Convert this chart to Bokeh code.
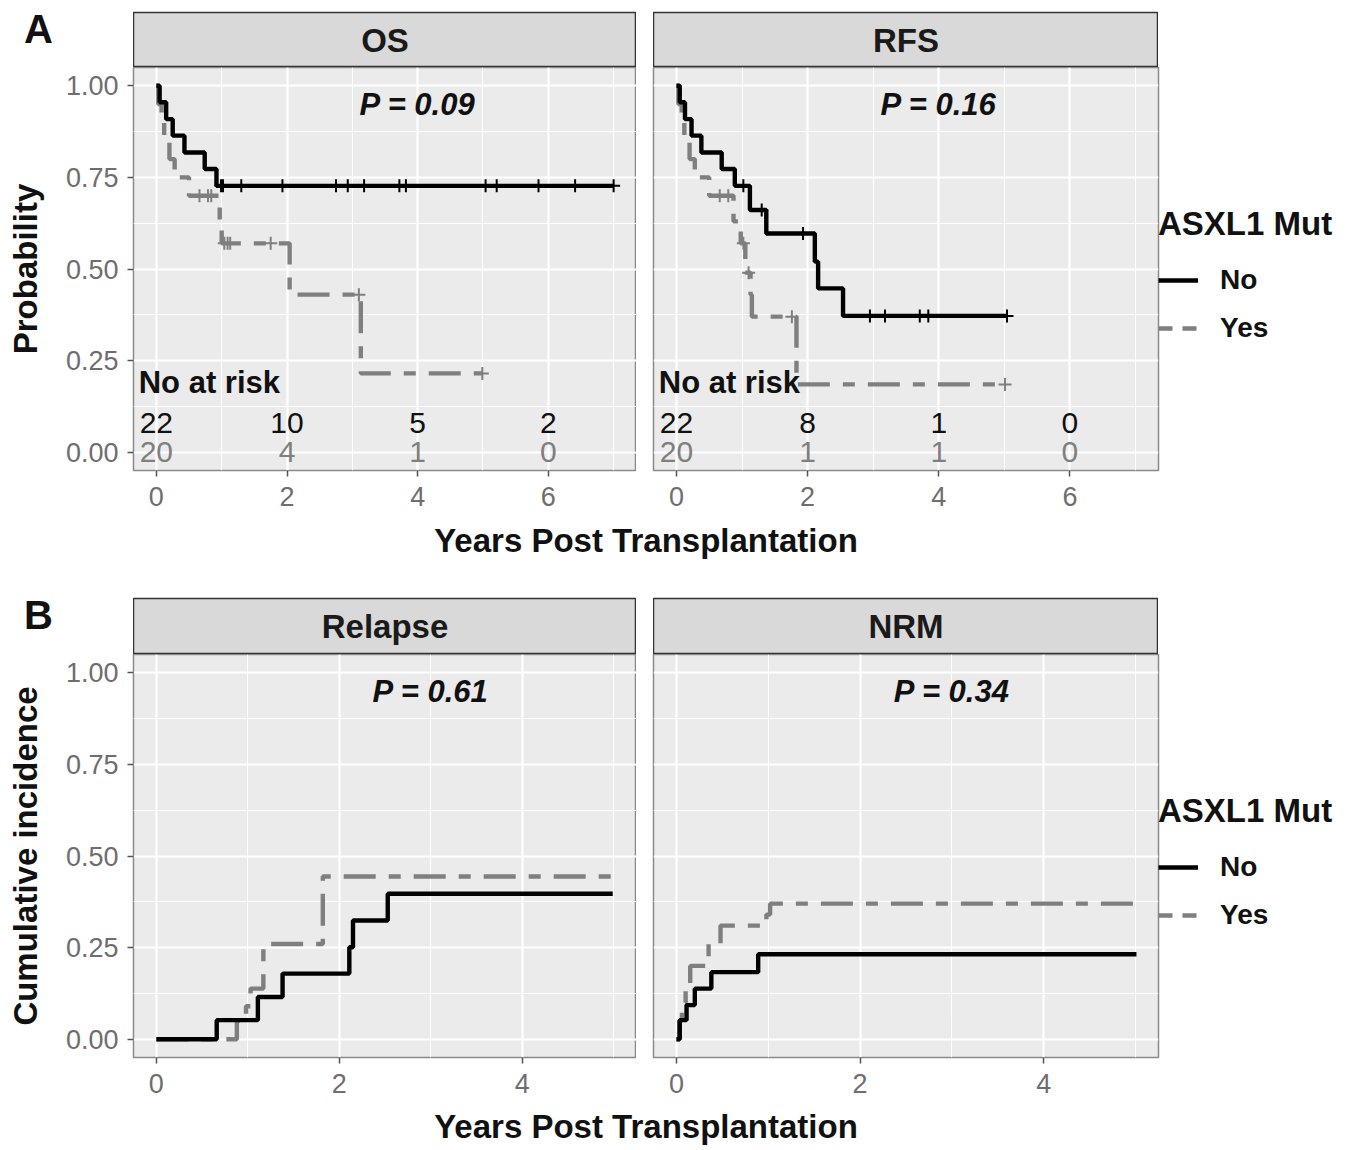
import numpy as np
from bokeh.plotting import figure
from bokeh.models import Range1d, FixedTicker, Grid, Label, Legend, LegendItem, Div
from bokeh.layouts import column, row
from bokeh.embed import file_html
from bokeh.resources import INLINE
from bokeh.core.properties import value

FONT = "Liberation Sans"
C_NO = "#000000"
C_YES = "#7f7f7f"
DASH_YES = "32 13 12 13"
DASH_KEY = "14 10"
TICK_COL = "#6e6e6e"
LW = 4.4

# ---------------- data ----------------
groups = ["No", "Yes"]
legend_title = "ASXL1 Mut"
x_label = "Years Post Transplantation"
y_label_A = "Probability"
y_label_B = "Cumulative incidence"
strip_labels = ["OS", "RFS", "Relapse", "NRM"]
p_values = ["0.09", "0.16", "0.61", "0.34"]
panel_tags = ["A", "B"]

y_ticks = [0, 0.25, 0.5, 0.75, 1]
y_tick_labels = ["0.00", "0.25", "0.50", "0.75", "1.00"]
y_minor = [0.125, 0.375, 0.625, 0.875]
x_ticks_A = [0, 2, 4, 6]
x_minor_A = [1, 3, 5, 7]
x_ticks_B = [0, 2, 4]
x_minor_B = [1, 3, 5]

# OS (Kaplan-Meier)
os_no_t = [0, 0.05, 0.15, 0.25, 0.43, 0.74, 0.92, 7.0]
os_no_s = [1.0, 0.955, 0.909, 0.864, 0.818, 0.773, 0.727, 0.727]
os_no_cens = [0.99, 1.02, 1.30, 1.93, 2.75, 2.93, 3.18, 3.72, 3.82, 5.04, 5.21, 5.85, 6.41, 7.0]
os_yes_t = [0, 0.03, 0.08, 0.12, 0.20, 0.28, 0.50, 0.97, 1.00, 2.04, 3.13, 4.99]
os_yes_s = [1.0, 0.95, 0.90, 0.85, 0.80, 0.75, 0.70, 0.635, 0.57, 0.43, 0.215, 0.215]
os_yes_cens = [0.66, 0.79, 0.84, 1.04, 1.09, 1.13, 1.75, 3.10, 4.99]

# RFS (Kaplan-Meier)
rfs_no_t = [0, 0.05, 0.13, 0.23, 0.38, 0.69, 0.89, 1.12, 1.37, 2.11, 2.16, 2.54, 5.04]
rfs_no_s = [1.0, 0.955, 0.909, 0.864, 0.818, 0.773, 0.727, 0.661, 0.597, 0.52, 0.447, 0.372, 0.372]
rfs_no_cens = [1.02, 1.30, 1.93, 2.95, 3.18, 3.71, 3.84, 5.04]
rfs_yes_t = [0, 0.03, 0.08, 0.12, 0.20, 0.28, 0.50, 0.87, 0.98, 1.05, 1.13, 1.15, 1.83, 5.01]
rfs_yes_s = [1.0, 0.95, 0.90, 0.85, 0.80, 0.75, 0.70, 0.63, 0.57, 0.49, 0.43, 0.37, 0.185, 0.185]
rfs_yes_cens = [0.66, 0.79, 1.02, 1.10, 1.76, 5.01]

# numbers at risk
risk_title = "No at risk"
risk_times = [0, 2, 4, 6]
os_no_risk = [22, 10, 5, 2]
os_yes_risk = [20, 4, 1, 0]
rfs_no_risk = [22, 8, 1, 0]
rfs_yes_risk = [20, 1, 1, 0]

# Relapse (cumulative incidence)
rel_no_t = [0, 0.66, 1.11, 1.38, 2.11, 2.15, 2.53, 4.99]
rel_no_c = [0.0, 0.052, 0.115, 0.179, 0.251, 0.324, 0.397, 0.397]
rel_yes_t = [0, 0.88, 0.98, 1.03, 1.17, 1.82, 4.98]
rel_yes_c = [0.0, 0.05, 0.09, 0.138, 0.26, 0.444, 0.444]

# NRM (cumulative incidence)
nrm_no_t = [0, 0.036, 0.11, 0.20, 0.38, 0.89, 5.01]
nrm_no_c = [0.0, 0.052, 0.093, 0.138, 0.183, 0.232, 0.232]
nrm_yes_t = [0, 0.03, 0.06, 0.10, 0.15, 0.35, 0.48, 0.98, 1.02, 4.98]
nrm_yes_c = [0.0, 0.05, 0.10, 0.15, 0.20, 0.26, 0.31, 0.34, 0.37, 0.37]

# ---------------- helpers ----------------
FH = 403
BL = 133     # left border of the left column
GAP = 17     # gap between facets
FW_L, FW_R = 503, 505
BR = 195     # legend area
BB = 48      # bottom border (x tick labels)
NAN = float("nan")


def base_fig(**kw):
    return figure(output_backend="svg", toolbar_location=None, **kw)


def make_panel(xr, xt, xm, show_y, ylab, bl, fw, br=0):
    p = base_fig(frame_width=fw, frame_height=FH, x_range=Range1d(*xr), y_range=Range1d(-0.05, 1.05),
                 min_border_left=bl, min_border_right=br, min_border_top=0, min_border_bottom=BB,
                 y_axis_location="left" if show_y else None)
    p.background_fill_color = "#EBEBEB"
    p.border_fill_color = "white"
    p.outline_line_color = "#8a8a8a"
    p.outline_line_width = 1.5
    p.grid.visible = False
    p.add_layout(Grid(dimension=0, ticker=FixedTicker(ticks=xt, minor_ticks=xm),
                      grid_line_color="white", grid_line_width=2.2,
                      minor_grid_line_color="white", minor_grid_line_width=1.1))
    p.add_layout(Grid(dimension=1, ticker=FixedTicker(ticks=y_ticks, minor_ticks=y_minor),
                      grid_line_color="white", grid_line_width=2.2,
                      minor_grid_line_color="white", minor_grid_line_width=1.1))
    ax = p.xaxis[0]
    ax.ticker = FixedTicker(ticks=xt)
    ax.axis_line_color = None
    ax.major_tick_line_color = "#555555"
    ax.major_tick_line_width = 1.5
    ax.major_tick_out = 6
    ax.major_tick_in = 0
    ax.minor_tick_line_color = None
    ax.major_label_standoff = 10
    ax.major_label_text_font = FONT
    ax.major_label_text_font_size = "27px"
    ax.major_label_text_color = TICK_COL
    if show_y:
        ay = p.yaxis[0]
        ay.ticker = FixedTicker(ticks=y_ticks)
        ay.major_label_overrides = dict(zip(y_ticks, y_tick_labels))
        ay.axis_line_color = None
        ay.major_tick_line_color = "#555555"
        ay.major_tick_line_width = 1.5
        ay.major_tick_out = 6
        ay.major_tick_in = 0
        ay.minor_tick_line_color = None
        ay.major_label_standoff = 9
        ay.major_label_text_font = FONT
        ay.major_label_text_font_size = "27px"
        ay.major_label_text_color = TICK_COL
        ay.axis_label = ylab
        ay.axis_label_text_font = FONT
        ay.axis_label_text_font_size = "33px"
        ay.axis_label_text_font_style = "bold"
        ay.axis_label_text_color = "#111111"
        ay.axis_label_standoff = 19
    return p


def make_strip(label, fw, fh, top):
    s = base_fig(frame_width=fw, frame_height=fh, x_range=Range1d(0, 1), y_range=Range1d(0, 1),
                 min_border_left=0, min_border_right=0, min_border_top=top, min_border_bottom=0,
                 x_axis_location=None, y_axis_location=None)
    s.background_fill_color = "#D9D9D9"
    s.border_fill_color = "white"
    s.outline_line_color = "#333333"
    s.outline_line_width = 1.5
    s.grid.visible = False
    s.text(x=[0.5], y=[0.5], text=[label], text_align="center", text_baseline="middle",
           text_font=value(FONT), text_font_style="bold", text_font_size="33px", text_color="#1a1a1a")
    return s


def make_tag(tag, w, h, pad_left, pad_top):
    html = (f'<div style="padding:{pad_top}px 0 0 {pad_left}px; font-family:\'{FONT}\'; '
            f'font-weight:bold; font-size:40px; line-height:40px; color:#111111;">{tag}</div>')
    return Div(text=html, width=w, height=h, margin=0)


def curve(p, t, s, color, dash, cens=None):
    r = p.step(x=t, y=s, mode="after", line_color=color, line_width=LW, line_dash=dash)
    if cens is not None:
        idx = np.searchsorted(np.array(t), np.array(cens), side="right") - 1
        cy = np.array(s)[idx]
        p.scatter(x=cens, y=cy, marker="cross", size=13, line_color=color, line_width=2)
    return r


def pval(p, x, y, txt):
    p.text(x=[x], y=[y], text=["P = " + txt], text_align="center", text_baseline="middle",
           text_font=value(FONT), text_font_style="bold italic", text_font_size="31px", text_color="#111111")


def risk_table(p, no_risk, yes_risk):
    p.text(x=[-0.27], y=[0.19], text=[risk_title], text_align="left", text_baseline="middle",
           text_font=value(FONT), text_font_style="bold", text_font_size="31px", text_color="#111111")
    p.text(x=risk_times, y=[0.08] * len(risk_times), text=[str(v) for v in no_risk], text_align="center",
           text_baseline="middle", text_font=value(FONT), text_font_size="30px", text_color="#111111")
    p.text(x=risk_times, y=[0.0] * len(risk_times), text=[str(v) for v in yes_risk], text_align="center",
           text_baseline="middle", text_font=value(FONT), text_font_size="30px", text_color=C_YES)


def add_legend(p):
    # legend-key renderers: NaN data, so they draw nothing in the panel itself
    k_no = p.line(x=[NAN, NAN], y=[NAN, NAN], line_color=C_NO, line_width=LW)
    k_yes = p.line(x=[NAN, NAN], y=[NAN, NAN], line_color=C_YES, line_width=LW, line_dash=DASH_KEY)
    leg = Legend(items=[LegendItem(label=groups[0], renderers=[k_no]),
                        LegendItem(label=groups[1], renderers=[k_yes])],
                 title=legend_title, location=(0, 120), orientation="vertical")
    leg.title_text_font = FONT
    leg.title_text_font_size = "33px"
    leg.title_text_font_style = "bold"
    leg.title_text_color = "#111111"
    leg.title_standoff = 15
    leg.label_text_font = FONT
    leg.label_text_font_size = "28px"
    leg.label_text_font_style = "bold"
    leg.label_text_color = "#111111"
    leg.glyph_width = 40
    leg.glyph_height = 44
    leg.label_standoff = 22
    leg.spacing = 4
    leg.padding = 4
    leg.margin = 0
    leg.border_line_color = None
    leg.background_fill_alpha = 0
    p.add_layout(leg, "right")


def make_xtitle(h, center_from_top):
    f = base_fig(frame_width=FW_L + GAP + FW_R, frame_height=h, x_range=Range1d(0, 1), y_range=Range1d(0, h),
                 min_border_left=BL, min_border_right=0, min_border_top=0, min_border_bottom=0,
                 x_axis_location=None, y_axis_location=None)
    f.outline_line_color = None
    f.background_fill_color = "white"
    f.border_fill_color = "white"
    f.grid.visible = False
    f.add_layout(Label(x=0.5, y=h - center_from_top, text=x_label, text_align="center",
                       text_baseline="middle", text_font=FONT, text_font_style="bold",
                       text_font_size="33px", text_color="#111111"))
    return f


def make_spacer_strip(w, h, top):
    f = base_fig(frame_width=w, frame_height=h, x_range=Range1d(0, 1), y_range=Range1d(0, 1),
                 min_border_left=0, min_border_right=0, min_border_top=top, min_border_bottom=0,
                 x_axis_location=None, y_axis_location=None)
    f.outline_line_color = None
    f.background_fill_color = "white"
    f.border_fill_color = "white"
    f.grid.visible = False
    return f


# ---------------- panel A ----------------
xrA = (-0.35, 7.35)
tag_a = make_tag(panel_tags[0], BL, 67, 24, 9)
s_os = make_strip(strip_labels[0], FW_L, 55, 12)
p_os = make_panel(xrA, x_ticks_A, x_minor_A, True, y_label_A, BL, FW_L)
curve(p_os, os_yes_t, os_yes_s, C_YES, DASH_YES, os_yes_cens)
curve(p_os, os_no_t, os_no_s, C_NO, "solid", os_no_cens)
pval(p_os, 4.0, 0.95, p_values[0])
risk_table(p_os, os_no_risk, os_yes_risk)

gap_a = make_spacer_strip(GAP, 55, 12)
s_rfs = make_strip(strip_labels[1], FW_R, 55, 12)
p_rfs = make_panel(xrA, x_ticks_A, x_minor_A, False, None, GAP, FW_R, br=BR)
curve(p_rfs, rfs_yes_t, rfs_yes_s, C_YES, DASH_YES, rfs_yes_cens)
curve(p_rfs, rfs_no_t, rfs_no_s, C_NO, "solid", rfs_no_cens)
pval(p_rfs, 4.0, 0.95, p_values[1])
risk_table(p_rfs, rfs_no_risk, rfs_yes_risk)
add_legend(p_rfs)

# ---------------- panel B ----------------
xrB = (-0.25, 5.25)
tag_b = make_tag(panel_tags[1], BL, 76, 24, 17)
s_rel = make_strip(strip_labels[2], FW_L, 56, 20)
p_rel = make_panel(xrB, x_ticks_B, x_minor_B, True, y_label_B, BL, FW_L)
curve(p_rel, rel_yes_t, rel_yes_c, C_YES, DASH_YES)
curve(p_rel, rel_no_t, rel_no_c, C_NO, "solid")
pval(p_rel, 3.0, 0.95, p_values[2])

gap_b = make_spacer_strip(GAP, 56, 20)
s_nrm = make_strip(strip_labels[3], FW_R, 56, 20)
p_nrm = make_panel(xrB, x_ticks_B, x_minor_B, False, None, GAP, FW_R, br=BR)
curve(p_nrm, nrm_yes_t, nrm_yes_c, C_YES, DASH_YES)
curve(p_nrm, nrm_no_t, nrm_no_c, C_NO, "solid")
pval(p_nrm, 3.0, 0.95, p_values[3])
add_legend(p_nrm)

layout = column(
    row(column(row(tag_a, s_os), p_os), column(row(gap_a, s_rfs), p_rfs)),
    make_xtitle(60, 22),
    row(column(row(tag_b, s_rel), p_rel), column(row(gap_b, s_nrm), p_nrm)),
    make_xtitle(44, 21),
)

open("out.html", "w").write(file_html(layout, INLINE, title="ASXL1"))
